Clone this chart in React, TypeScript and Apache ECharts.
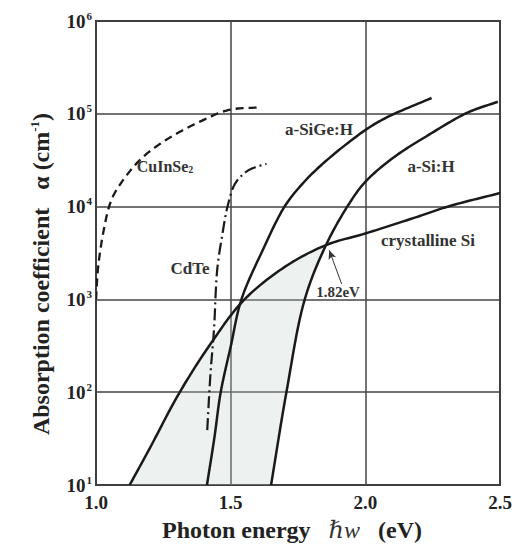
import React, { useEffect, useRef } from "react";
import * as echarts from "echarts";

// Photon energy (eV) and absorption coefficient (cm^-1)
const cSiX = [1.125, 1.2, 1.309, 1.43, 1.548, 1.701, 1.854, 2.0, 2.193, 2.311, 2.5];
const cSiY = [10, 25, 98, 347, 977, 2240, 3850, 5130, 7760, 10100, 14000];

const aSiGeX = [1.412, 1.44, 1.463, 1.5, 1.54, 1.621, 1.701, 1.768, 1.849, 2.0, 2.083, 2.246];
const aSiGeY = [10, 33, 100, 309, 1000, 3490, 10100, 17800, 30200, 66800, 92500, 148000];

const aSiHX = [1.65, 1.707, 1.775, 1.854, 1.934, 2.0, 2.109, 2.235, 2.379, 2.492];
const aSiHY = [10, 100, 1000, 3850, 10100, 18500, 34500, 59200, 102800, 134900];

const cisX = [1.0, 1.008, 1.027, 1.051, 1.076, 1.162, 1.261, 1.382, 1.493, 1.614];
const cisY = [1000, 2240, 5250, 10500, 15100, 31600, 52500, 81300, 110000, 117500];

const cdteX = [1.413, 1.425, 1.438, 1.45, 1.468, 1.49, 1.517, 1.56, 1.597, 1.633];
const cdteY = [39, 158, 468, 2090, 4790, 10500, 17800, 24000, 26900, 28800];

// crossing of crystalline Si and a-Si:H (index 6 in cSi, index 3 in aSiH)
const cSiCrossIdx = 6;
const aSiHCrossIdx = 3;
const arrowFrom = [1.912, 1466];
const arrowTo = [1.866, 3390];

const yTicks = [10, 100, 1000, 10000, 100000, 1000000];

const serif = "'Liberation Serif', 'Times New Roman', 'DejaVu Serif', serif";

const zip = (xs: number[], ys: number[]) => xs.map((x, i) => [x, ys[i]]);

// centripetal Catmull-Rom through pixel points, segments [from, to]
function spline(pts: number[][], from = 0, to = pts.length - 1, steps = 14) {
  const n = pts.length;
  const get = (i: number) => {
    if (i < 0) return [2 * pts[0][0] - pts[1][0], 2 * pts[0][1] - pts[1][1]];
    if (i >= n) return [2 * pts[n - 1][0] - pts[n - 2][0], 2 * pts[n - 1][1] - pts[n - 2][1]];
    return pts[i];
  };
  const d = (a: number[], b: number[]) => Math.max(Math.sqrt(Math.hypot(b[0] - a[0], b[1] - a[1])), 1e-4);
  const lerp = (a: number[], b: number[], ta: number, tb: number, t: number) => {
    const w = (t - ta) / (tb - ta);
    return [a[0] * (1 - w) + b[0] * w, a[1] * (1 - w) + b[1] * w];
  };
  const out: number[][] = [pts[from].slice()];
  for (let i = from; i < to; i++) {
    const p0 = get(i - 1), p1 = get(i), p2 = get(i + 1), p3 = get(i + 2);
    const t0 = 0, t1 = t0 + d(p0, p1), t2 = t1 + d(p1, p2), t3 = t2 + d(p2, p3);
    for (let s = 1; s <= steps; s++) {
      const t = t1 + ((t2 - t1) * s) / steps;
      const A1 = lerp(p0, p1, t0, t1, t);
      const A2 = lerp(p1, p2, t1, t2, t);
      const A3 = lerp(p2, p3, t2, t3, t);
      const B1 = lerp(A1, A2, t0, t2, t);
      const B2 = lerp(A2, A3, t1, t3, t);
      out.push(lerp(B1, B2, t1, t2, t));
    }
  }
  return out;
}

export default function App() {
  const ref = useRef<HTMLDivElement>(null);
  useEffect(() => {
    if (!ref.current) return;
    const chart = echarts.init(ref.current, null, { renderer: "svg" });

    const curveSeries = (name: string, xs: number[], ys: number[], lineStyle: any) => ({
      type: "custom",
      name,
      z: 3,
      clip: true,
      data: [[xs[0], ys[0]]],
      renderItem: (params: any, api: any) => {
        const px = zip(xs, ys).map((p) => api.coord(p));
        return {
          type: "polyline",
          shape: { points: spline(px) },
          style: { fill: "none", stroke: "#1a1a1a", lineWidth: 2.5, lineCap: "butt", lineJoin: "round", ...lineStyle },
          silent: true,
        };
      },
    });

    const label = (text: string, x: number, y: number, size: number) => ({
      type: "text",
      x,
      y,
      style: { text, align: "center", verticalAlign: "middle", font: `bold ${size}px ${serif}`, fill: "#333" },
    });

    chart.setOption({
      animation: false,
      backgroundColor: "#ffffff",
      grid: {
        left: 96,
        right: 21,
        top: 21,
        bottom: 59,
        show: true,
        borderColor: "#333",
        borderWidth: 2,
        backgroundColor: "transparent",
      },
      xAxis: {
        type: "value",
        min: 1.0,
        max: 2.5,
        interval: 0.5,
        axisLine: { show: false },
        axisTick: { show: false },
        splitLine: { show: true, lineStyle: { color: "#444", width: 1.5 } },
        axisLabel: {
          margin: 8,
          fontFamily: serif,
          fontWeight: "bold",
          fontSize: 19,
          color: "#222",
          formatter: (v: number) => v.toFixed(1),
        },
      },
      yAxis: {
        type: "log",
        logBase: 10,
        min: yTicks[0],
        max: yTicks[yTicks.length - 1],
        axisLine: { show: false },
        axisTick: { show: false },
        splitLine: { show: true, lineStyle: { color: "#444", width: 1.5 } },
        axisLabel: {
          margin: 4,
          formatter: (v: number) => `{b|10}{s|${Math.round(Math.log10(v))}}`,
          rich: {
            b: { fontFamily: serif, fontWeight: "bold", fontSize: 19, color: "#222" },
            s: {
              fontFamily: serif,
              fontWeight: "bold",
              fontSize: 11,
              color: "#222",
              padding: [0, 0, 11, 1],
            },
          },
        },
      },
      series: [
        {
          type: "custom",
          name: "shade",
          z: 1,
          clip: true,
          data: [[cSiX[0], cSiY[0]]],
          renderItem: (params: any, api: any) => {
            const cPx = zip(cSiX, cSiY).map((p) => api.coord(p));
            const aPx = zip(aSiHX, aSiHY).map((p) => api.coord(p));
            const upper = spline(cPx, 0, cSiCrossIdx);
            const right = spline(aPx, 0, aSiHCrossIdx).reverse();
            return {
              type: "polygon",
              shape: { points: [...upper, ...right] },
              style: { fill: "rgba(190,205,200,0.28)", stroke: "none" },
              silent: true,
            };
          },
        },
        curveSeries("crystalline Si", cSiX, cSiY, {}),
        curveSeries("a-SiGe:H", aSiGeX, aSiGeY, {}),
        curveSeries("a-Si:H", aSiHX, aSiHY, {}),
        curveSeries("CuInSe2", cisX, cisY, { lineWidth: 2.3, lineDash: [8, 5] }),
        curveSeries("CdTe", cdteX, cdteY, { lineWidth: 2.2, lineDash: [12, 4, 2, 4] }),
        {
          type: "line",
          name: "arrow",
          data: [],
          markLine: {
            silent: true,
            symbol: ["none", "arrow"],
            symbolSize: [6, 9],
            label: { show: false },
            lineStyle: { color: "#333", width: 1, type: "solid" },
            data: [[{ coord: arrowFrom }, { coord: arrowTo }]],
          },
        },
      ],
      graphic: [
        {
          type: "text",
          x: 41,
          y: 274,
          rotation: Math.PI / 2,
          style: {
            text: "{t|Absorption coefficient   α (cm}{s|-1}{t|)}",
            align: "center",
            verticalAlign: "middle",
            rich: {
              t: { fontFamily: serif, fontWeight: "bold", fontSize: 24, fill: "#222" },
              s: { fontFamily: serif, fontWeight: "bold", fontSize: 13, fill: "#222", padding: [0, 0, 13, 0] },
            },
          },
        },
        {
          type: "text",
          x: 292,
          y: 530,
          style: {
            text: "{t|Photon energy   }{i|ℏw}{t|   (eV)}",
            align: "center",
            verticalAlign: "middle",
            rich: {
              t: { fontFamily: serif, fontWeight: "bold", fontSize: 24, fill: "#222" },
              i: { fontFamily: serif, fontStyle: "italic", fontWeight: "normal", fontSize: 24, fill: "#333" },
            },
          },
        },
        {
          type: "text",
          x: 165,
          y: 166,
          style: {
            text: "{t|CuInSe}{s|2}",
            align: "center",
            verticalAlign: "middle",
            rich: {
              t: { fontFamily: serif, fontWeight: "bold", fontSize: 16, fill: "#333" },
              s: { fontFamily: serif, fontWeight: "bold", fontSize: 10, fill: "#333", padding: [7, 0, 0, 0] },
            },
          },
        },
        label("CdTe", 190, 268, 17),
        label("a-SiGe:H", 319, 129, 17),
        label("a-Si:H", 431, 166, 17),
        label("crystalline Si", 428, 240, 17),
        label("1.82eV", 338, 292, 15),
      ],
    });
    return () => chart.dispose();
  }, []);
  return (
    <div
      ref={ref}
      style={{ position: "fixed", left: 0, top: 0, width: 521, height: 544, background: "#fff" }}
    />
  );
}
